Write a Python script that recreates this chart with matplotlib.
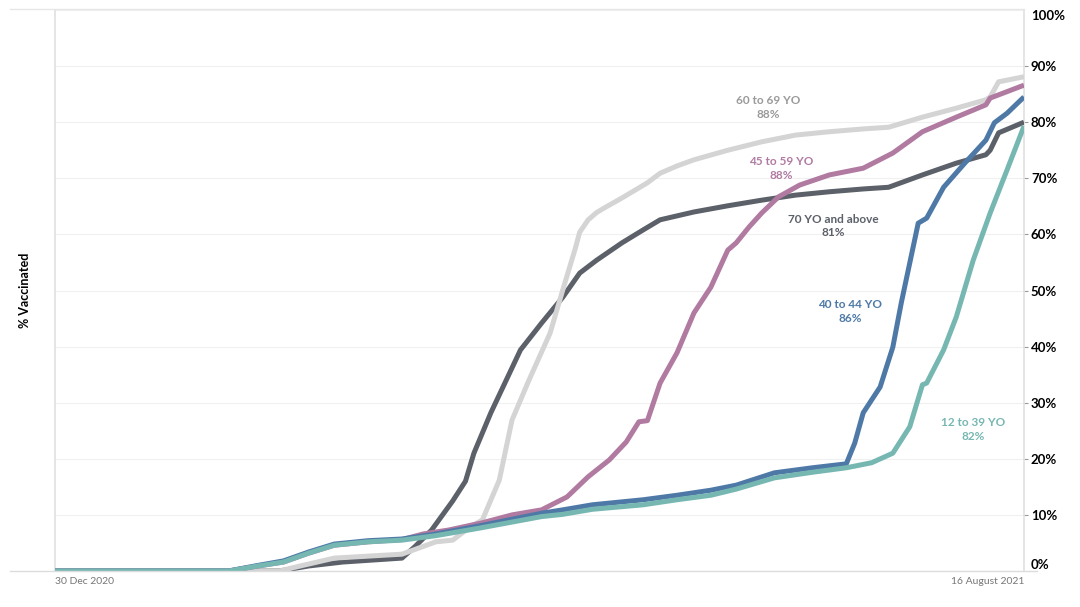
import matplotlib
matplotlib.use("Agg")
import matplotlib.pyplot as plt
from matplotlib.lines import Line2D
import pandas as pd

plt.rcParams['font.family'] = ['Lato', 'DejaVu Sans']

# ---- data ----
dates_12_39 = ["2020-12-30", "2021-02-09", "2021-02-16", "2021-02-22", "2021-02-28", "2021-03-06",
               "2021-03-14", "2021-03-22", "2021-03-30", "2021-04-09", "2021-04-24", "2021-04-29",
               "2021-05-06", "2021-05-18", "2021-05-26", "2021-06-03", "2021-06-09", "2021-06-18",
               "2021-06-27", "2021-07-05", "2021-07-11", "2021-07-16", "2021-07-20", "2021-07-23",
               "2021-07-24", "2021-07-28", "2021-07-31", "2021-08-04", "2021-08-08", "2021-08-12",
               "2021-08-16"]
vals_12_39 = [0, 0, 0.9, 1.6, 3.2, 4.6, 5.2, 5.5, 6.3, 7.6, 9.7, 10.1, 11.0, 11.8, 12.7, 13.5,
              14.6, 16.6, 17.6, 18.4, 19.3, 21.0, 25.7, 33.2, 33.5, 39.4, 45.3, 55.4, 63.8, 71.5, 79.3]

dates_40_44 = ["2020-12-30", "2021-02-09", "2021-02-16", "2021-02-22", "2021-02-28", "2021-03-06",
               "2021-03-14", "2021-03-22", "2021-03-30", "2021-04-09", "2021-04-24", "2021-04-29",
               "2021-05-06", "2021-05-18", "2021-05-26", "2021-06-03", "2021-06-09", "2021-06-18",
               "2021-06-27", "2021-07-05", "2021-07-07", "2021-07-09", "2021-07-13", "2021-07-16",
               "2021-07-18", "2021-07-20", "2021-07-22", "2021-07-24", "2021-07-28", "2021-08-02",
               "2021-08-07", "2021-08-09", "2021-08-12", "2021-08-16"]
vals_40_44 = [0, 0, 1.0, 1.8, 3.4, 4.8, 5.4, 5.7, 6.6, 8.0, 10.3, 10.9, 11.8, 12.7, 13.5, 14.4,
              15.3, 17.5, 18.4, 19.1, 22.8, 28.2, 32.8, 39.9, 47.8, 54.9, 62.0, 62.9, 68.4, 72.7,
              76.8, 79.9, 81.6, 84.5]

dates_45_59 = ["2020-12-30", "2021-02-09", "2021-02-16", "2021-02-22", "2021-02-28", "2021-03-06",
               "2021-03-14", "2021-03-22", "2021-03-27", "2021-04-02", "2021-04-10", "2021-04-17",
               "2021-04-24", "2021-04-30", "2021-05-05", "2021-05-10", "2021-05-14", "2021-05-17",
               "2021-05-19", "2021-05-22", "2021-05-26", "2021-05-30", "2021-06-03", "2021-06-07",
               "2021-06-09", "2021-06-12", "2021-06-15", "2021-06-19", "2021-06-24", "2021-07-01",
               "2021-07-09", "2021-07-16", "2021-07-23", "2021-07-31", "2021-08-07", "2021-08-08",
               "2021-08-16"]
vals_45_59 = [0, 0, 0.9, 1.6, 3.2, 4.6, 5.2, 5.6, 6.6, 7.3, 8.6, 10.0, 10.9, 13.2, 16.8, 19.8,
              23.0, 26.6, 26.8, 33.5, 38.9, 46.0, 50.6, 57.2, 58.5, 61.3, 63.8, 66.7, 68.8, 70.6,
              71.8, 74.5, 78.3, 80.9, 83.1, 84.3, 86.6]

dates_60_69 = ["2020-12-30", "2021-02-21", "2021-02-26", "2021-03-06", "2021-03-22", "2021-03-30",
               "2021-04-03", "2021-04-07", "2021-04-10", "2021-04-14", "2021-04-17", "2021-04-21",
               "2021-04-26", "2021-04-29", "2021-05-02", "2021-05-03", "2021-05-05", "2021-05-07",
               "2021-05-09", "2021-05-13", "2021-05-17", "2021-05-19", "2021-05-22", "2021-05-26",
               "2021-05-30", "2021-06-07", "2021-06-15", "2021-06-23", "2021-07-01", "2021-07-09",
               "2021-07-15", "2021-07-23", "2021-07-31", "2021-08-07", "2021-08-08", "2021-08-10",
               "2021-08-16"]
vals_60_69 = [0, 0, 0.9, 2.3, 3.0, 5.2, 5.5, 7.8, 9.1, 16.2, 26.9, 34.0, 42.4, 50.1, 57.6, 60.4,
              62.6, 63.9, 64.8, 66.5, 68.3, 69.2, 70.9, 72.2, 73.3, 75.0, 76.5, 77.7, 78.3, 78.8,
              79.1, 80.9, 82.5, 84.0, 84.5, 87.2, 88.1]

dates_70_plus = ["2020-12-30", "2021-02-21", "2021-02-28", "2021-03-08", "2021-03-22", "2021-03-25",
                 "2021-03-29", "2021-04-03", "2021-04-06", "2021-04-08", "2021-04-12", "2021-04-16",
                 "2021-04-19", "2021-04-24", "2021-04-29", "2021-05-03", "2021-05-07", "2021-05-13",
                 "2021-05-18", "2021-05-22", "2021-05-30", "2021-06-07", "2021-06-15", "2021-06-23",
                 "2021-07-01", "2021-07-09", "2021-07-15", "2021-07-23", "2021-07-31", "2021-08-07",
                 "2021-08-08", "2021-08-10", "2021-08-16"]
vals_70_plus = [0, 0, 0.9, 1.6, 2.3, 4.3, 7.3, 12.5, 16.0, 21.0, 28.2, 34.6, 39.4, 44.2, 48.8,
                53.1, 55.4, 58.5, 60.8, 62.6, 64.0, 65.1, 66.1, 67.0, 67.6, 68.1, 68.4, 70.6, 72.7,
                74.2, 75.0, 78.1, 80.0]

series_names = ["70 YO and above", "60 to 69 YO", "45 to 59 YO", "40 to 44 YO", "12 to 39 YO"]
final_labels = ["81%", "88%", "88%", "86%", "82%"]
yticks = [0, 10, 20, 30, 40, 50, 60, 70, 80, 90, 100]
xtick_dates = ["2020-12-30", "2021-08-16"]
xtick_labels = ["30 Dec 2020", "16 August 2021"]

# ---- styling ----
line_colors = ["#5b6069", "#d4d4d4", "#b07aa1", "#4e79a7", "#76b7b2"]
label_colors = ["#5b6069", "#9a9a9a", "#b07aa1", "#4e79a7", "#76b7b2"]
label_pos = [("2021-07-02", 61.5), ("2021-06-16 14:00", 82.6), ("2021-06-19 16:00", 71.7),
             ("2021-07-05 20:00", 46.3), ("2021-08-04", 25.2)]

all_dates = [dates_70_plus, dates_60_69, dates_45_59, dates_40_44, dates_12_39]
all_vals = [vals_70_plus, vals_60_69, vals_45_59, vals_40_44, vals_12_39]

fig = plt.figure(figsize=(10.8, 6.07), dpi=100)
W, H = 1080, 607
ax = fig.add_axes([55 / W, 1 - 571 / H, (1024 - 55) / W, (571 - 10) / H])

for i, (d, v) in enumerate(zip(all_dates, all_vals)):
    ax.plot(pd.to_datetime(d), v, color=line_colors[i], lw=3.6, solid_capstyle='butt',
            solid_joinstyle='round', zorder=3 + i)

for i, name in enumerate(series_names):
    px, py = label_pos[i]
    ax.text(pd.Timestamp(px), py, name + "\n" + final_labels[i], color=label_colors[i],
            fontsize=8.5, fontweight='bold', ha='center', va='center', linespacing=1.3,
            zorder=10)

ax.set_xlim(pd.Timestamp("2020-12-30"), pd.Timestamp("2021-08-16"))
ax.set_ylim(0, 100)

# y axis on right
ax.yaxis.tick_right()
ax.set_yticks(yticks)
ax.set_yticklabels([f"{t}%" for t in yticks])
ax.tick_params(axis='y', which='major', length=3, width=0.8, color='#999999', pad=2,
               labelsize=9.5, labelcolor='black')
for lab in ax.get_yticklabels():
    lab.set_fontweight('bold')
for t, tick in zip(yticks, ax.yaxis.get_major_ticks()):
    if t == 100:
        tick.label2.set_va('top')
        tick.tick2line.set_visible(False)
    elif t == 0:
        tick.label2.set_va('bottom')
        tick.tick2line.set_visible(False)

ax.set_xticks(pd.to_datetime(xtick_dates))
ax.set_xticklabels(xtick_labels)
ax.tick_params(axis='x', length=0, pad=4, labelsize=7.5, labelcolor='#777777')
xl = ax.get_xticklabels()
xl[0].set_ha('left')
xl[1].set_ha('right')

ax.grid(axis='y', color='#f0f0f0', lw=0.8, zorder=0)
ax.grid(axis='x', visible=False)
for s in ['top', 'bottom']:
    ax.spines[s].set_visible(False)
ax.spines['left'].set_color('#e0e0e0')
ax.spines['right'].set_color('#e0e0e0')
ax.spines['left'].set_linewidth(1.2)
ax.spines['right'].set_linewidth(1.2)

# outer frame lines (top and bottom)
fig.add_artist(Line2D([10 / W, 1024 / W], [1 - 9 / H, 1 - 9 / H], color='#e6e6e6', lw=1))
fig.add_artist(Line2D([10 / W, 1037 / W], [1 - 571 / H, 1 - 571 / H], color='#dcdcdc', lw=1))

fig.text(25 / W, 1 - 290 / H, "% Vaccinated", rotation=90, ha='center', va='center',
         fontsize=9, fontweight='bold', color='black')

fig.savefig("out.png", dpi=100, facecolor='white')
